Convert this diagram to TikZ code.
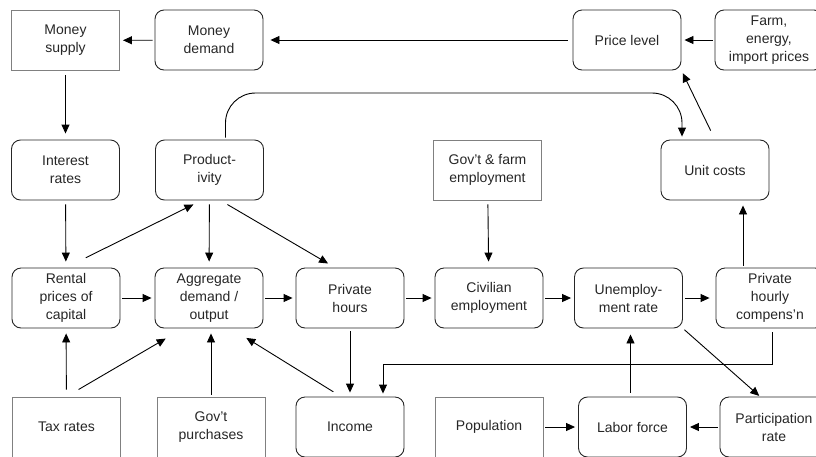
\documentclass[tikz,border=0pt]{standalone}
\usepackage{fontspec}
\setmainfont{Liberation Sans}
\usetikzlibrary{arrows.meta}
\tikzset{
  rbox/.style={draw=black!85,rounded corners=9pt,minimum width=108pt,minimum height=60pt,
    align=center,inner sep=2pt,text=black!85},
  sbox/.style={rbox,draw=black!50,rounded corners=0pt},
  flow/.style={->,shorten <=2pt,shorten >=3pt},
}
\begin{document}
\begin{tikzpicture}[x=1pt,y=-1pt,line width=0.9pt,>={Triangle[length=9pt,width=8pt]},
  font=\fontsize{14}{18}\selectfont]
        \useasboundingbox (0,0) rectangle (816,456);
        % top row
        \node[sbox] (msup) at (65.5,40.5){Money\\supply};
        \node[rbox] (mdem) at (209,40){Money\\demand};
        \node[rbox] (price) at (627,40){Price level};
        \node[rbox] (farm) at (769,40){Farm,\\energy,\\import prices};
        % second row
        \node[rbox] (intr) at (65.5,170){Interest\\rates};
        \node[rbox] (prod) at (209.5,170){Product-\\ivity};
        \node[sbox] (govemp) at (487.5,170){Gov't \& farm\\employment};
        \node[rbox] (unit) at (715,170){Unit costs};
        % third row
        \node[rbox] (rent) at (66,298){Rental\\prices of\\capital};
        \node[rbox] (agg) at (209,298){Aggregate\\demand /\\output};
        \node[rbox] (hours) at (350,298){Private\\hours};
        \node[rbox] (civ) at (489,298){Civilian\\employment};
        \node[rbox] (unemp) at (628.5,298){Unemploy-\\ment rate};
        \node[rbox] (comp) at (770,298){Private\\hourly\\compens'n};
        % bottom row
        \node[sbox] (tax) at (66.5,427){Tax rates};
        \node[sbox] (govp) at (211,427){Gov't\\purchases};
        \node[rbox] (income) at (350,427){Income};
        \node[sbox] (pop) at (489,427){Population};
        \node[rbox] (labor) at (632.5,427){Labor force};
        \node[rbox] (part) at (774,427){Participation\\rate};
        \coordinate (toprail) at (0,93);
        \coordinate (lowrail) at (0,364);
        \coordinate (incin) at ([xshift=33pt]income.north);
        % arrows
        \draw[flow] (mdem) -- (msup);
        \draw[flow,shorten <=5pt,shorten >=7pt] (price) -- (mdem);
        \draw[flow] (farm) -- (price);
        \draw[flow,shorten <=10pt] (unit.north) -- (price.south east);
        \draw[flow,shorten <=4pt,shorten >=6pt] (msup) -- (intr);
        \draw[flow,shorten <=4pt,shorten >=6pt] (intr) -- (rent);
        \draw[flow,rounded corners=30pt] ([xshift=16pt]prod.north) |- ([xshift=-33pt]unit.north |- toprail) -- ([xshift=-33pt]unit.north);
        \draw[flow,shorten <=22pt,shorten >=9pt] (rent.north) -- ([xshift=-8pt]prod.south);
        \draw[flow,shorten <=4pt,shorten >=6pt] (prod) -- (agg);
        \draw[flow,shorten <=8pt,shorten >=8pt] ([xshift=11pt]prod.south) -- ([xshift=-15pt]hours.north);
        \draw[flow] (rent) -- (agg);
        \draw[flow] (agg) -- (hours);
        \draw[flow] (hours) -- (civ);
        \draw[flow] (civ) -- (unemp);
        \draw[flow,shorten >=6pt] (unemp) -- (comp);
        \draw[flow,shorten <=4pt,shorten >=6pt] (govemp) -- (civ);
        \draw[flow,shorten >=5pt] ([xshift=-27pt]comp.north) -- ([xshift=-27pt]comp.north |- unit.south);
        \draw[flow,shorten <=4pt] ([xshift=2pt]comp.south) |- (lowrail -| incin) -- (incin);
        \draw[flow,shorten <=3pt,shorten >=4pt] (hours) -- (income);
        \draw[flow,shorten <=9pt,shorten >=18pt] ([xshift=-9pt]income.north) -- ([xshift=22pt]agg.south);
        \draw[flow,shorten <=7pt,shorten >=5pt] (tax) -- (rent);
        \draw[flow,shorten <=14pt,shorten >=20pt] (tax.north) -- ([xshift=-26pt]agg.south);
        \draw[flow,shorten <=2pt,shorten >=5pt] (govp.north) -- (govp.north |- agg.south);
        \draw[flow,shorten >=1pt] (unemp.south east) -- ([xshift=-14pt]part.north);
        \draw[flow] (pop) -- (labor);
        \draw[flow] (part) -- (labor);
        \draw[flow,shorten <=4pt,shorten >=6pt] ([xshift=-2pt]labor.north) -- ([xshift=-2pt]labor.north |- unemp.south);
\end{tikzpicture}
\end{document}
